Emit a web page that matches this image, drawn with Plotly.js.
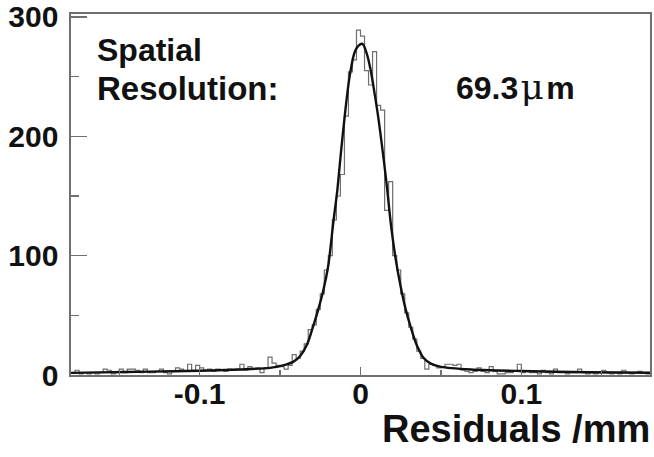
<!DOCTYPE html>
<html>
<head>
<meta charset="utf-8">
<script src="https://cdn.plot.ly/plotly-3.0.1.min.js"></script>
<style>html,body{margin:0;padding:0;background:#fff;}#chart{width:654px;height:457px;}</style>
</head>
<body>
<div id="chart"></div>
<script>
// Histogram: bins of 0.0025 mm from -0.18 to 0.18
const binLow = -0.18;
const binWidth = 0.0025;
const counts = [
  2, 4, 1, 2, 1, 2, 1, 2, 5, 4,
  1, 2, 5, 2, 5, 5, 4, 2, 5, 2,
  2, 3, 5, 2, 1, 3, 6, 5, 3, 9,
  4, 8, 6, 4, 5, 3, 5, 4, 3, 5,
  4, 5, 9, 4, 7, 5, 6, 2, 6, 15,
  10, 8, 7, 5, 8, 17, 14, 20, 26, 38,
  42, 55, 68, 88, 100, 130, 150, 168, 217, 254,
  264, 289, 284, 255, 243, 271, 226, 222, 138, 162,
  100, 88, 68, 52, 40, 30, 20, 14, 5, 9,
  8, 6, 7, 9, 9, 8, 9, 4, 3, 2,
  3, 6, 3, 2, 7, 3, 1, 1, 2, 2,
  3, 9, 2, 3, 2, 2, 1, 4, 2, 1,
  5, 2, 2, 1, 2, 2, 5, 2, 1, 2,
  1, 2, 4, 2, 1, 2, 1, 4, 2, 1,
  2, 3, 2, 1
];

// Fit curve
const fitX = [-0.18, -0.1625, -0.13125, -0.1, -0.075, -0.05625, -0.0469, -0.0419, -0.0375, -0.0331,
  -0.0294, -0.02625, -0.0231, -0.02, -0.0169, -0.0144, -0.0119, -0.0094, -0.0069, -0.00375,
  -0.00125, 0.00125, 0.00375, 0.00625, 0.00875, 0.01125, 0.01375, 0.01625, 0.01875, 0.0219,
  0.025, 0.0281, 0.03125, 0.035, 0.0394, 0.04375, 0.05, 0.06875, 0.1, 0.1419, 0.18];
const fitY = [1.8, 2.2, 2.8, 3.6, 4.6, 6.0, 8.5, 11, 16, 26,
  41, 55, 71, 92, 128, 155, 190, 222, 249, 270,
  276, 277.5, 270, 256, 236, 214, 188, 160, 128, 97,
  74, 55, 40, 25, 14, 9.5, 6.8, 4.6, 3.3, 2.3, 1.9];

const xTickVals = [-0.1, 0, 0.1];
const xTickText = ['-0.1', '0', '0.1'];
const yTickVals = [0, 100, 200, 300];
const yTickText = ['0', '100', '200', '300'];

const xTitle = 'Residuals /mm';
const labelLine1 = 'Spatial';
const labelLine2 = 'Resolution:';
const resValue = '69.3';

// build step outline from bin edges
const stepX = [], stepY = [];
for (let i = 0; i < counts.length; i++) {
  stepX.push(binLow + i * binWidth);
  stepY.push(counts[i]);
}
stepX.push(binLow + counts.length * binWidth);
stepY.push(counts[counts.length - 1]);

const F = 'Liberation Sans, Arial, Helvetica, sans-serif';
const W = 654, H = 457;
const L = 71, R = 650, T = 14, B = 375.5;
function px(x) { return (x - L) / (R - L); }
function py(y) { return (B - y) / (B - T); }

const traces = [
  {x: stepX, y: stepY, type: 'scatter', mode: 'lines', line: {shape: 'hv', color: '#6e6e6e', width: 1.2}, hoverinfo: 'skip'},
  {x: fitX, y: fitY, type: 'scatter', mode: 'lines', line: {shape: 'spline', smoothing: 0.8, color: '#111', width: 2.4}, hoverinfo: 'skip'}
];

const axisCommon = {
  showgrid: false, zeroline: false, showline: true, mirror: true,
  linecolor: '#707070', linewidth: 1.6,
  ticks: 'inside', tickcolor: '#707070', tickwidth: 1.5,
  tickfont: {family: F, size: 30, color: '#111', weight: 'bold'},
  tickmode: 'array'
};

const layout = {
  width: W, height: H,
  margin: {l: L, r: W - R, t: T, b: H - B, pad: 0},
  paper_bgcolor: '#fff', plot_bgcolor: '#fff',
  showlegend: false,
  xaxis: Object.assign({}, axisCommon, {
    range: [-0.18, 0.18], tickvals: xTickVals, ticktext: xTickText, ticklen: 8,
    minor: {dtick: 0.05, tick0: 0, ticklen: 5, ticks: 'inside', tickcolor: '#707070', tickwidth: 1.3},
    ticklabelstandoff: -9
  }),
  yaxis: Object.assign({}, axisCommon, {
    range: [0, 302.5], tickvals: yTickVals, ticktext: yTickText, ticklen: 16,
    minor: {dtick: 50, tick0: 0, ticklen: 8, ticks: 'inside', tickcolor: '#707070', tickwidth: 1.3},
    ticklabelstandoff: 5
  }),
  annotations: [
    {xref: 'paper', yref: 'paper', x: px(95), y: py(63), xanchor: 'left', yanchor: 'bottom', showarrow: false,
     text: labelLine1, font: {family: F, size: 32, color: '#111', weight: 'bold'}, yshift: -7},
    {xref: 'paper', yref: 'paper', x: px(95), y: py(102), xanchor: 'left', yanchor: 'bottom', showarrow: false,
     text: labelLine2, font: {family: F, size: 33, color: '#111', weight: 'bold'}, yshift: -7},
    {xref: 'paper', yref: 'paper', x: px(454), y: py(102), xanchor: 'left', yanchor: 'bottom', showarrow: false,
     text: resValue + '<span style="font-size:8px"> </span><span style="font-family:DejaVu Serif;font-weight:normal;font-size:36px">μ</span><span style="font-size:8px"> </span>m', font: {family: F, size: 32, color: '#111', weight: 'bold'}, yshift: -7},
    {xref: 'paper', yref: 'paper', x: px(652), y: py(444), xanchor: 'right', yanchor: 'bottom', showarrow: false,
     text: xTitle, font: {family: F, size: 38, color: '#111', weight: 'bold'}, yshift: -9}
  ]
};

Plotly.newPlot('chart', traces, layout, {staticPlot: true, displayModeBar: false});
</script>
</body>
</html>
